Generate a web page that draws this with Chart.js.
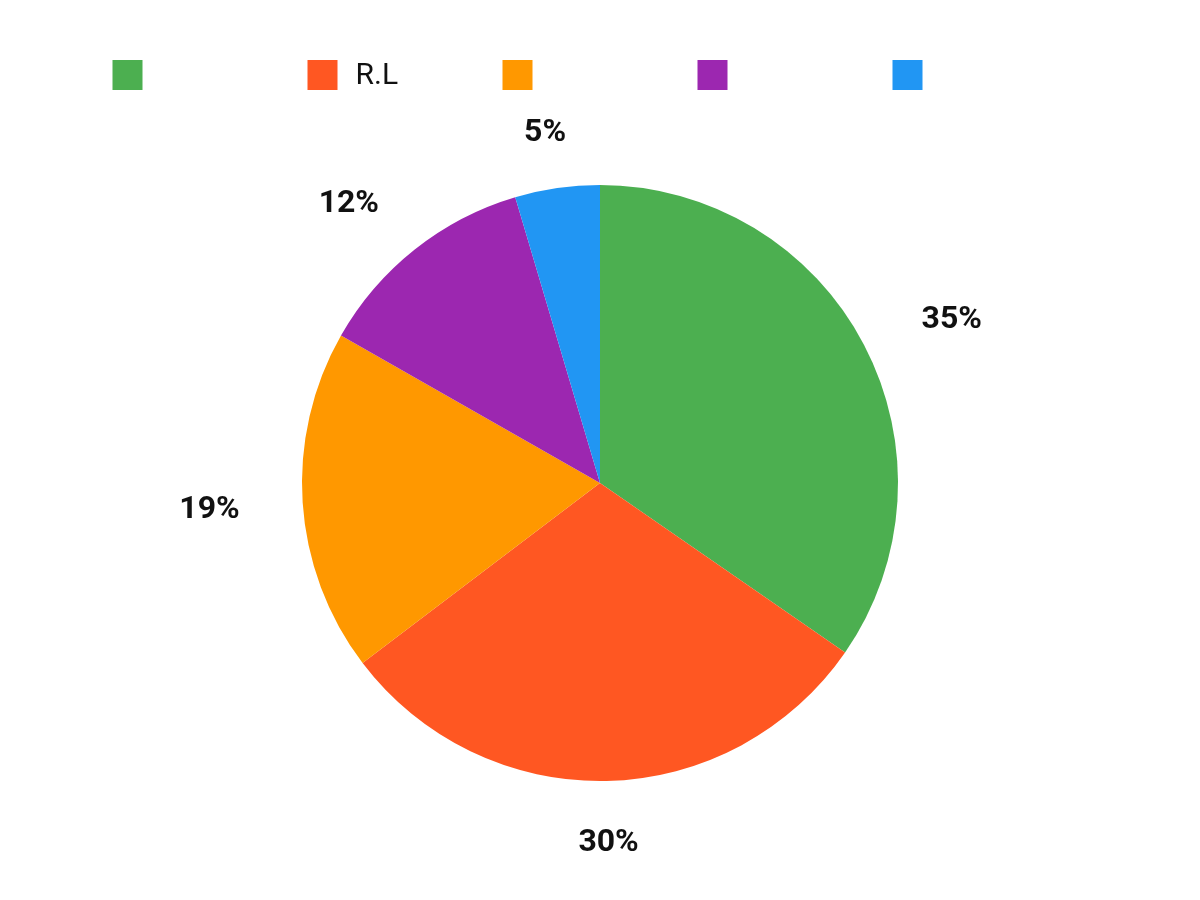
<!DOCTYPE html>
<html>
<head>
<meta charset="utf-8">
<title>Pie</title>
<script src="https://cdn.jsdelivr.net/npm/chart.js@4.4.1/dist/chart.umd.min.js"></script>
<style>
  html, body { margin: 0; padding: 0; background: #fff; }
  #wrap { width: 1200px; height: 900px; position: relative; }
</style>
</head>
<body>
<div id="wrap"><canvas id="pie"></canvas></div>
<script>
// --- data ---
const labels = ['', 'R.L', '', '', ''];
const values = [34.7, 30.1, 18.6, 12.2, 4.6];
const colors = ['#4CAF50', '#FF5722', '#FF9800', '#9C27B0', '#2196F3'];

const FONT = "Roboto, 'Noto Sans', sans-serif";

// legend drawn in fixed slots across the top
const slotLegend = {
    id: 'slotLegend',
    afterDraw(chart) {
        const ctx = chart.ctx;
        const names = chart.data.labels;
        const fills = chart.data.datasets[0].backgroundColor;
        const slot = 195, box = 30, top = 60;
        const startX = chart.width / 2 - slot * names.length / 2;
        ctx.save();
        ctx.font = '30px ' + FONT;
        ctx.textBaseline = 'alphabetic';
        ctx.textAlign = 'left';
        names.forEach((name, i) => {
            const x = startX + i * slot;
            ctx.fillStyle = fills[i];
            ctx.fillRect(x, top, box, box);
            if (name) {
                ctx.fillStyle = '#111';
                ctx.fillText(name, x + box + 18, top + 24);
            }
        });
        ctx.restore();
    }
};

// percentage labels outside each slice
const outerLabels = {
    id: 'outerLabels',
    afterDatasetsDraw(chart) {
        const ctx = chart.ctx;
        const meta = chart.getDatasetMeta(0);
        const data = chart.data.datasets[0].data;
        const total = data.reduce((a, b) => a + b, 0);
        const fs = 32, padX = 16, offset = 47;
        ctx.save();
        ctx.font = 'bold ' + fs + 'px ' + FONT;
        ctx.fillStyle = '#111';
        ctx.textAlign = 'center';
        ctx.textBaseline = 'alphabetic';
        meta.data.forEach((arc, i) => {
            const p = arc.getProps(['x', 'y', 'startAngle', 'endAngle', 'outerRadius'], true);
            const mid = (p.startAngle + p.endAngle) / 2;
            const vx = Math.cos(mid), vy = Math.sin(mid);
            const text = Math.round(data[i] / total * 100) + '%';
            const w = ctx.measureText(text).width + padX * 2;
            const h = fs * 0.75;
            const vs = 1 / Math.max(Math.abs(vx), Math.abs(vy));
            const cx = p.x + vx * p.outerRadius + w / 2 * vx * vs + offset * vx;
            const cy = p.y + vy * p.outerRadius + h / 2 * vy * vs + offset * vy;
            ctx.fillText(text, cx, cy + fs * 0.355);
        });
        ctx.restore();
    }
};

new Chart(document.getElementById('pie'), {
    type: 'pie',
    data: {
        labels: labels,
        datasets: [{
            data: values,
            backgroundColor: colors,
            borderWidth: 0,
            hoverOffset: 0
        }]
    },
    options: {
        responsive: true,
        maintainAspectRatio: false,
        animation: false,
        layout: {
            padding: { top: 185, bottom: 119, left: 0, right: 0 }
        },
        plugins: {
            legend: { display: false },
            tooltip: { enabled: false }
        }
    },
    plugins: [slotLegend, outerLabels]
});
</script>
</body>
</html>
